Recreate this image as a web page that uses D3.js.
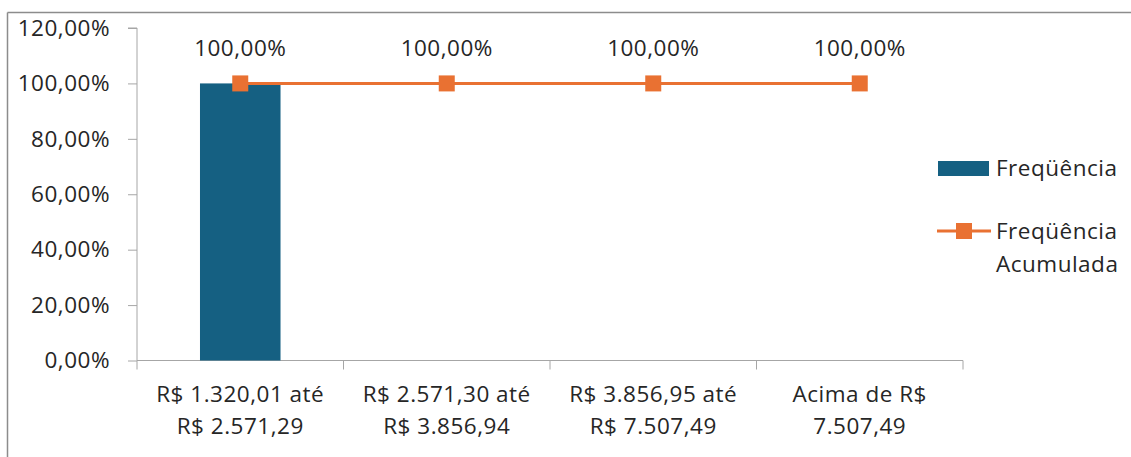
<!DOCTYPE html>
<meta charset="utf-8">
<style>
body { margin: 0; background: #fff; }
text { font-family: "Open Sans", "Liberation Sans", sans-serif; fill: #262626; letter-spacing: 0.5px; }
</style>
<svg width="1131" height="457"></svg>
<script src="https://d3js.org/d3.v7.min.js"></script>
<script>

var categories = [
  ["R$ 1.320,01 até", "R$ 2.571,29"],
  ["R$ 2.571,30 até", "R$ 3.856,94"],
  ["R$ 3.856,95 até", "R$ 7.507,49"],
  ["Acima de R$", "7.507,49"]
]
var frequencia = [1, 0, 0, 0]
var acumulada = [1, 1, 1, 1]
var yTicks = [0, 0.2, 0.4, 0.6, 0.8, 1.0, 1.2]
var seriesNames = ["Freqüência", ["Freqüência", "Acumulada"]]

var blue = "#156082", orange = "#E97132", axisGrey = "#a6a6a6"
var fs = "22.5px"

var svg = d3.select("svg")

// frame (cropped on the right & bottom)
svg.append("line").attr("x1", 7.5).attr("x2", 1131).attr("y1", 12.5).attr("y2", 12.5)
  .attr("stroke", "#8c8c8c").attr("stroke-width", 1.5)
svg.append("line").attr("x1", 7.5).attr("x2", 7.5).attr("y1", 12.5).attr("y2", 457)
  .attr("stroke", "#8c8c8c").attr("stroke-width", 1.5)

var x = d3.scaleBand().domain(d3.range(categories.length)).range([137, 963])
var y = d3.scaleLinear().domain([0, 1.2]).range([360.5, 28])

var fmt = function(v){ return (v*100).toFixed(2).replace(".", ",") + "%" }

// y axis
var yAxis = svg.append("g").attr("transform", "translate(137,0)")
  .call(d3.axisLeft(y).tickValues(yTicks).tickSize(9).tickPadding(18).tickFormat(fmt))
yAxis.select(".domain").attr("stroke", axisGrey).attr("d", "M-9," + y(1.2) + "H0V" + y(0))
yAxis.selectAll(".tick line").attr("stroke", axisGrey)
yAxis.selectAll("text").style("font-size", fs).style("font-family", null).attr("fill", "#262626")

// x axis
var xAxis = svg.append("g").attr("transform", "translate(0," + y(0) + ")")
xAxis.append("line").attr("x1", 137).attr("x2", 963).attr("stroke", axisGrey)
var bounds = d3.range(categories.length + 1).map(function(i){ return i < categories.length ? x(i) : x(i-1) + x.bandwidth() })
xAxis.selectAll(".xt").data(bounds).enter().append("line")
  .attr("x1", d => d).attr("x2", d => d).attr("y1", 0).attr("y2", 9).attr("stroke", axisGrey)
var xl = xAxis.selectAll(".xl").data(categories).enter().append("text")
  .attr("text-anchor", "middle").style("font-size", fs)
  .attr("x", (d,i) => x(i) + x.bandwidth()/2)
xl.each(function(d){
  var t = d3.select(this)
  d.forEach(function(s, k){
    t.append("tspan").attr("x", t.attr("x")).attr("y", 41 + k*32).text(s)
  })
})

// bars
var bw = x.bandwidth() * 0.39
svg.selectAll(".bar").data(frequencia).enter().append("rect")
  .attr("x", (d,i) => x(i) + x.bandwidth()/2 - bw/2)
  .attr("y", d => y(d))
  .attr("width", bw)
  .attr("height", d => y(0) - y(d))
  .attr("fill", blue)

// cumulative line
var line = d3.line().x((d,i) => x(i) + x.bandwidth()/2).y(d => y(d))
svg.append("path").datum(acumulada).attr("d", line)
  .attr("fill", "none").attr("stroke", orange).attr("stroke-width", 3)
svg.selectAll(".mk").data(acumulada).enter().append("rect")
  .attr("x", (d,i) => x(i) + x.bandwidth()/2 - 8)
  .attr("y", d => y(d) - 8)
  .attr("width", 16).attr("height", 16).attr("fill", orange)
svg.selectAll(".lbl").data(acumulada).enter().append("text")
  .attr("x", (d,i) => x(i) + x.bandwidth()/2)
  .attr("y", d => y(d) - 27)
  .attr("text-anchor", "middle").style("font-size", fs)
  .text(fmt)

// legend
var lg = svg.append("g")
lg.append("rect").attr("x", 938).attr("y", 161).attr("width", 51).attr("height", 15).attr("fill", blue)
lg.append("text").attr("x", 996).attr("y", 176).style("font-size", fs).text(seriesNames[0])
lg.append("line").attr("x1", 937).attr("x2", 991).attr("y1", 231).attr("y2", 231)
  .attr("stroke", orange).attr("stroke-width", 3)
lg.append("rect").attr("x", 956).attr("y", 223).attr("width", 16).attr("height", 16).attr("fill", orange)
seriesNames[1].forEach(function(s, k){
  lg.append("text").attr("x", 996).attr("y", 239 + k*33).style("font-size", fs).text(s)
})

</script>
